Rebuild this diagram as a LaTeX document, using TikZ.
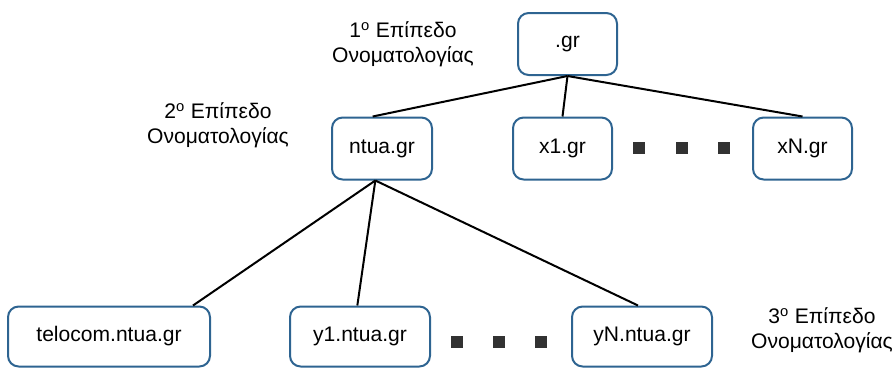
\documentclass[tikz,border=0pt]{standalone}
\usepackage{fontspec}
\setmainfont{Liberation Sans}
\usepackage{tikz}

\definecolor{boxblue}{RGB}{46,100,145}
\definecolor{dotgray}{RGB}{50,50,50}

\begin{document}
\begin{tikzpicture}[x=0.75pt, y=-0.75pt,
  every node/.style={font=\fontsize{15.8}{18.8}\selectfont},
  dnsbox/.style={draw=boxblue, line width=1.5pt, rounded corners=8pt, fill=white, minimum height=46.5pt},
  dotbox/.style={fill=dotgray, minimum size=9pt, inner sep=0pt},
  level/.style={align=center},
  link/.style={line width=1.5pt, black}]
  \useasboundingbox (0,0) rectangle (896,369);

  % Domain nodes
  \node[dnsbox, minimum width=74.25pt] (gr) at (567.5,44) {.gr};
  \node[dnsbox, minimum width=75pt] (ntua) at (382,148.5) {ntua.gr};
  \node[dnsbox, minimum width=74.25pt] (x1) at (562.5,148.5) {x1.gr};
  \node[dnsbox, minimum width=74.25pt] (xN) at (802.5,148.5) {xN.gr};
  \node[dnsbox, minimum width=151.5pt, minimum height=45pt] (telocom) at (109,336.5) {telocom.ntua.gr};
  \node[dnsbox, minimum width=105pt, minimum height=45pt] (y1) at (360,336.5) {y1.ntua.gr};
  \node[dnsbox, minimum width=105pt, minimum height=45pt] (yN) at (642,336.5) {yN.ntua.gr};

  % Dots between siblings
  \node[dotbox] (d1) at (639,148) {};
  \node[dotbox] (d2) at (682,148) {};
  \node[dotbox] (d3) at (724,148) {};
  \node[dotbox] (d4) at (457,342) {};
  \node[dotbox] (d5) at (499,342) {};
  \node[dotbox] (d6) at (541,342) {};

  % Edges
  \draw[link] (gr.south) -- ([xshift=-7pt]ntua.north);
  \draw[link] (gr.south) -- (x1.north);
  \draw[link] (gr.south) -- (xN.north);
  \draw[link] ([xshift=-5pt]ntua.south) -- ([xshift=63pt]telocom.north);
  \draw[link] ([xshift=-5pt]ntua.south) -- ([xshift=-2pt]y1.north);
  \draw[link] ([xshift=-5pt]ntua.south) -- ([xshift=-3pt]yN.north);

  % Level labels
  \node[level] (lev1) at (403,44.5) {1\textsuperscript{o} Επίπεδο\\Ονοματολογίας};
  \node[level] (lev2) at (218,125) {2\textsuperscript{o} Επίπεδο\\Ονοματολογίας};
  \node[level] (lev3) at (822,330) {3\textsuperscript{o} Επίπεδο\\Ονοματολογίας};
\end{tikzpicture}
\end{document}
